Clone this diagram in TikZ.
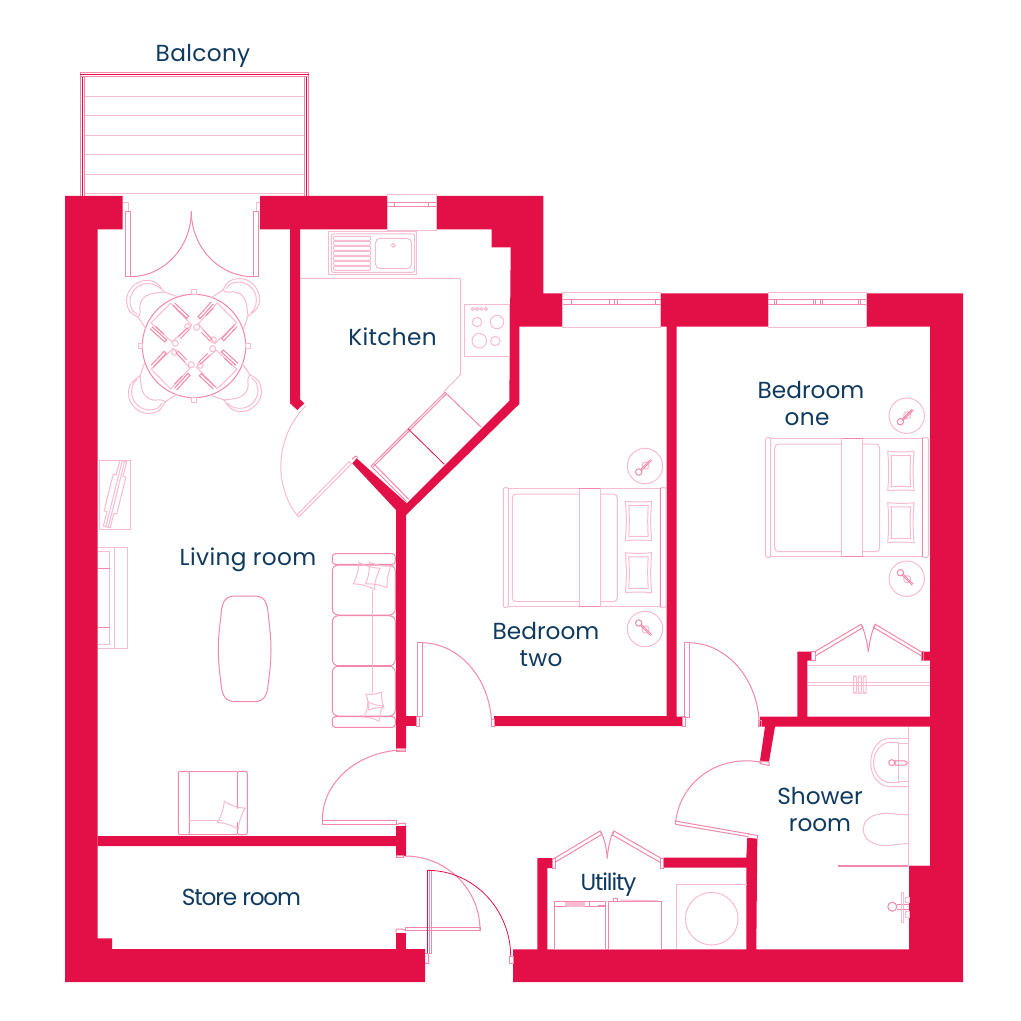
\documentclass[tikz,border=0pt]{standalone}
\usepackage{fontspec}
\usetikzlibrary{calc}
\setmainfont{Poppins}
\definecolor{wallred}{HTML}{E30F47}
\definecolor{inkblue}{HTML}{0F3A5F}
\definecolor{pinklight}{HTML}{F9BBCE}
\definecolor{pinkmid}{HTML}{F488A8}
\tikzset{
 wall/.style={fill=wallred,draw=none},
 lightln/.style={draw=pinklight,line width=0.5pt,fill=none},
 midln/.style={draw=pinkmid,line width=0.5pt,fill=none},
 darkln/.style={draw=wallred,line width=0.4pt,fill=none},
 roomlabel/.style={text=inkblue,anchor=base,inner sep=0pt,outer sep=0pt,font=\fontsize{11.6pt}{12pt}\selectfont},
}
\newfontfamily\wideface[LetterSpace=1.5]{Poppins}
\newfontfamily\midface[LetterSpace=0]{Poppins}
\newfontfamily\tightface[LetterSpace=-5]{Poppins}
% quarter curve A, corner C, B
\newcommand{\qcurve}[7][midln]{\draw[#1] (#2,#3) .. controls ($(#2,#3)!0.5523!(#4,#5)$) and ($(#6,#7)!0.5523!(#4,#5)$) .. (#6,#7);}
\newcommand{\boxat}[5][midln]{\draw[#1] (#2,#3) rectangle (#4,#5);}
\newcommand{\pillowat}[4]{%
 \draw[lightln] (#1,#2) to[bend right=5] (#3,#2) to[bend right=5] (#3,#4) to[bend right=5] (#1,#4) to[bend right=5] cycle;
 \draw[lightln] ($(#1,#2)+(3.5,4)$) to[bend right=3] ($(#3,#2)+(-3.5,4)$) to[bend right=3] ($(#3,#4)+(-3.5,-4)$) to[bend right=3] ($(#1,#4)+(3.5,-4)$) to[bend right=3] cycle;}
\newcommand{\bedat}[2]{\begin{scope}[shift={(#1,#2)}]
 \draw[lightln,rounded corners=1pt] (503.3,487.5) rectangle (508.3,607.5);
 \draw[lightln,rounded corners=1pt] (660,487.5) rectangle (666,607.5);
 \draw[lightln] (508.3,488.3) rectangle (660,606.7);
 \draw[midln] (660,488.3) -- (660,606.7);
 \draw[lightln,rounded corners=2pt] (512.3,494) rectangle (617.3,601.7);
 \fill[white] (579.3,488.3) rectangle (600.3,606.7);
 \draw[lightln] (579.3,488.3) -- (579.3,606.7) (600.3,488.3) -- (600.3,606.7);
 \draw[midln] (579.3,488.3) -- (600.3,488.3) (579.3,606.7) -- (600.3,606.7);
 \pillowat{625.3}{501.3}{651.7}{540.7}
 \pillowat{625.3}{552.7}{651.7}{592.7}
\end{scope}}
\newcommand{\lampat}[3]{\begin{scope}[shift={(#1,#2)},yscale=#3]
 \draw[lightln] (0,0) circle (17.7);
 \draw[lightln] (0.5,-0.5) circle (3.6);
 \draw[midln] (-6.3,6) circle (3.2);
 \draw[midln] (-5,4) -- (5.5,-6.5);
 \draw[midln] (-4,5) -- (6.5,-5.5);
\end{scope}}
\newcommand{\cushionat}[3]{\begin{scope}[shift={(#1,#2)},rotate=#3]
 \draw[lightln] (-11,-11) to[bend right=12] (11,-11) to[bend right=12] (11,11) to[bend right=12] (-11,11) to[bend right=12] cycle;
\end{scope}}
\newcommand{\chairset}[1]{\begin{scope}[shift={(194,346)},rotate=#1]
 % crescent
 \draw[lightln] (-30,-54) .. controls (-36,-64) and (-42,-67) .. (-52,-65) .. controls (-62,-62) and (-70,-52) .. (-66.7,-40) .. controls (-66,-36) and (-63,-32) .. (-56,-29) .. controls (-53,-33) and (-54,-34) .. (-54,-37) .. controls (-55,-46) and (-49,-52) .. (-38,-53) -- cycle;
 \draw[lightln] (-33,-57) .. controls (-38,-62) and (-43,-63) .. (-50,-62) .. controls (-59,-60) and (-66,-50) .. (-63.5,-41) .. controls (-63,-37) and (-61,-34) .. (-57,-32);
 \draw[lightln] (-30,-54) -- (-17,-49.5) (-56,-29) -- (-48,-17);
 % seat
 \draw[lightln] (-43,-23.3) -- (-23.3,-42.7) -- (-2.3,-21) -- (-22.3,-4.3) -- cycle;
 \draw[midln] (-21.3,-41) -- (-7.3,-27.7) -- (-5.3,-29.7) -- (-19.3,-43) (-18.3,-38) -- (-10.3,-30.7);
 \draw[midln] (-42,-19.3) -- (-27.3,-6) -- (-29.3,-4) -- (-44,-17.3) (-38,-19.3) -- (-30.3,-12);
 \draw[midln] (-15.7,-9.3) -- (-7,-18) -- (-5,-16) -- (-13.7,-7.3);
 \draw[lightln] (-6.3,-19.3) circle (3);
 \draw[lightln] (-18.7,-2.7) circle (3);
 % table tick
 \draw[lightln] (-2.7,-56) rectangle (2.7,-51.7);
\end{scope}}
\begin{document}
\begin{tikzpicture}[x=0.5pt,y=-0.5pt]
\useasboundingbox (0,0) rectangle (1021,1021);
\fill[white] (0,0) rectangle (1021,1021);
% walls
\fill[wall] (65,196) -- (122.7,196) -- (122.7,229.3) -- (97.7,229.3) -- (97.7,938.3) -- (112,938.3) -- (112,949) -- (425,949) -- (425,982) -- (65,982) -- cycle;
\fill[wall] (260,196) -- (387.3,196) -- (387.3,229.3) -- (300,229.3) -- (300,399.3) -- (304.3,403.3) -- (297.3,410) -- (290,403.3) -- (290,229.3) -- (260,229.3) -- cycle;
\fill[wall] (436.3,196) -- (543.3,196) -- (543.3,293.3) -- (562.7,293.3) -- (562.7,326.7) -- (519.3,326.7) -- (519.3,404) -- (406,515) -- (406,748.3) -- (396,748.3) -- (396,510) -- (352.3,463.3) -- (356.7,458.3) -- (406.7,503.3) -- (509.3,400.7) -- (510.7,247.3) -- (491.7,247.3) -- (491.7,229.3) -- (436.3,229.3) -- cycle;
\fill[wall] (396,826) -- (406,826) -- (406,856) -- (396,856) -- (396,846) -- (97.7,846) -- (97.7,836) -- (396,836) -- cycle;
\fill[wall] (396,932.7) rectangle (406,950);
\fill[wall] (406,716) rectangle (416,726);
\fill[wall] (513,949.3) -- (537.3,949.3) -- (537.3,858) -- (552.3,858) -- (552.3,868) -- (547.3,868) -- (547.3,949.3) -- (746.3,949.3) -- (746.3,867.7) -- (663.3,867.7) -- (663.3,857.7) -- (746.3,857.7) -- (747.3,837.7) -- (757.3,838.7) -- (756.3,949.3) -- (909,949.3) -- (909,865) -- (930,865) -- (930,726.7) -- (775,726.7) -- (769,761.7) -- (760,760.7) -- (765,726.7) -- (760,726.7) -- (760,716.7) -- (797.3,716.7) -- (797.3,651.7) -- (811.7,651.7) -- (811.7,660.7) -- (807.3,660.7) -- (807.3,716.7) -- (930,716.7) -- (930,660.7) -- (921.7,660.7) -- (921.7,651.7) -- (930,651.7) -- (930,326.7) -- (866.3,326.7) -- (866.3,293.3) -- (963,293.3) -- (963,982) -- (513,982) -- cycle;
\fill[wall] (661,293.3) -- (768,293.3) -- (768,326.7) -- (676.7,326.7) -- (676.7,716.7) -- (682.3,716.7) -- (682.3,726) -- (494,726) -- (494,716) -- (666.7,716) -- (666.7,326.7) -- (661,326.7) -- cycle;
% balcony
\draw[midln] (80,72.3) rectangle (308.7,76.7);
\draw[wallred,line width=0.7pt] (80,74.5) -- (308.7,74.5);
\draw[midln] (80,76.7) -- (80,196) (84.7,76.7) -- (84.7,196) (304.3,76.7) -- (304.3,196) (308.7,76.7) -- (308.7,196);
\draw[wallred,line width=0.7pt] (82.3,76.7) -- (82.3,196) (306.5,76.7) -- (306.5,196);
\foreach \yy in {96.3,115.3,135.3,154.3,174.3,193.7}{\draw[lightln] (84.7,\yy) -- (304.3,\yy);}
% balcony doors
\draw[lightln] (122.7,202.3) -- (128,202.3) -- (128,211.3);
\draw[midln] (125.3,211.3) rectangle (130,276.7);
\qcurve{130}{276.7}{191.3}{276.7}{191.3}{211.3}
\draw[lightln] (260,202.3) -- (256,202.3) -- (256,211.3);
\draw[midln] (253.3,211.3) rectangle (258,276.7);
\qcurve{253.3}{276.7}{191.3}{276.7}{191.3}{211.3}
% windows
\draw[lightln] (387.3,195) rectangle (436.3,230.7);
\draw[midln] (387.3,202.3) -- (436.3,202.3) (387.3,206.7) -- (436.3,206.7) (394.3,202.3) -- (394.3,206.7) (428.3,202.3) -- (428.3,206.7);
\draw[lightln] (562.7,292.7) rectangle (660.7,327.3);
\draw[midln] (562.7,299.3) -- (660.7,299.3) (562.7,304.3) -- (660.7,304.3);
\foreach \xx in {571.3,609.7,614.3,617.3,655.7}{\draw[midln] (\xx,299.3) -- (\xx,304.3);}
\draw[lightln] (768,292.7) rectangle (866.3,327.3);
\draw[midln] (768,299.3) -- (866.3,299.3) (768,304.3) -- (866.3,304.3);
\foreach \xx in {774.3,776.3,813.3,815,820,822.3,858.7,860}{\draw[midln] (\xx,299.3) -- (\xx,304.3);}
% dining
\draw[midln] (194,346) circle (51.7);
\chairset{0}\chairset{90}\chairset{180}\chairset{270}
% kitchen
\draw[lightln] (300,278.3) -- (460.7,278.3) -- (460.7,374.3) -- (444,391.7);
\draw[lightln] (328.3,231.3) rectangle (416.7,274.7);
\draw[lightln,rounded corners=1pt] (331.3,234) rectangle (414.7,272.3);
\foreach \yy in {236.3,241.3,246.3,251.3,256.3,261.3,266.3}{\draw[lightln,rounded corners=0.5pt] (333.3,\yy) rectangle (370.7,\yy+4);}
\draw[lightln,rounded corners=2.5pt] (375.3,238.3) rectangle (411.7,268.7);
\draw[lightln] (393.3,243.3) -- (395.3,245.3) -- (393.3,247.3) -- (391.3,245.3) -- cycle;
\draw[lightln] (464.3,304.3) rectangle (509.3,356.3);
\foreach \xx in {472.7,477,481.3,486}{\draw[lightln] (\xx,309) circle (1.6);}
\draw[lightln] (477,322) circle (4.7) (497,322) circle (6.7) (479.3,340.7) circle (7.3) (495.3,341) circle (4.7);
\draw[midln] (445,392.3) -- (371,466) (446.5,393.8) -- (372.5,467.5);
\draw[midln] (445,392.3) -- (481.3,427.3);
\draw[darkln] (408.3,429) -- (444.3,464.3);
\draw[midln] (371,466) -- (406.7,501.7) (373.5,463.5) -- (408.7,499.3);
% kitchen door
\draw[lightln] (297,515) -- (349,461.7) -- (351.3,464) -- (299,516.7) -- cycle;
\draw[midln] (352,459) -- (356,456) -- (358,458);
\qcurve[lightln]{298.3}{516.7}{251.3}{459.4}{306}{405.7}
% TV unit
\draw[lightln] (99.3,460.3) rectangle (130.7,529.3);
\begin{scope}[shift={(115,494)},rotate=-14]
\draw[lightln] (-3.5,-34) -- (3.5,-34) -- (3.5,-19) -- (6.5,-19) -- (6.5,19) -- (3.5,19) -- (3.5,34) -- (-3.5,34) -- (-3.5,19) -- (-6.5,19) -- (-6.5,-19) -- (-3.5,-19) -- cycle;
\draw[lightln] (-1,-34) -- (-1,34) (1.5,-34) -- (1.5,34);
\end{scope}
% sideboard
\draw[lightln] (98,547.3) -- (127.7,547.3) -- (127.7,648.7) -- (98,648.7);
\draw[lightln] (114.3,547.3) -- (114.3,648.7);
\draw[lightln] (98,551.3) -- (109.7,551.3) -- (109.7,644.7) -- (98,644.7);
\draw[midln] (98,568.3) -- (109.7,568.3) (98,627.3) -- (109.7,627.3);
% coffee table
\draw[midln] (236,596) .. controls (226,596) and (222,600) .. (221,615) .. controls (219,632) and (218.3,640) .. (218.3,649) .. controls (218.3,658) and (219,668) .. (221,683) .. controls (222,697) and (226,701.7) .. (236,701.7) -- (253.3,701.7) .. controls (263.3,701.7) and (267.3,697) .. (268.3,683) .. controls (270.3,668) and (271,658) .. (271,649) .. controls (271,640) and (270.3,632) .. (268.3,615) .. controls (267.3,600) and (263.3,596) .. (253.3,596) -- cycle;
% sofa
\draw[midln,rounded corners=1.5pt] (332.3,553.7) rectangle (395.3,564.3);
\draw[midln,rounded corners=1.5pt] (332.3,716.7) rectangle (395.3,727.3);
\draw[midln,rounded corners=3pt] (332.3,565) rectangle (395.3,615);
\draw[midln,rounded corners=3pt] (332.3,615.7) rectangle (395.3,665.7);
\draw[midln,rounded corners=3pt] (332.3,666.3) rectangle (395.3,716);
\draw[lightln] (372.7,590) -- (372.7,693);
\cushionat{366.7}{576}{-15}
\cushionat{378.3}{575}{-10}
\begin{scope}[shift={(375,701)},scale=0.72]
\cushionat{0}{0}{8}
\end{scope}
\begin{scope}[shift={(373.5,711.5)},scale=0.72]
\cushionat{0}{0}{-15}
\end{scope}
% armchair
\draw[midln,rounded corners=1pt] (178.3,771.3) rectangle (189.3,834.7);
\draw[midln,rounded corners=1pt] (237.3,771.3) rectangle (247.3,834.7);
\draw[midln] (189.3,771.3) -- (237.3,771.3) (189.3,834.7) -- (237.3,834.7);
\draw[lightln] (189.3,820) -- (221.7,820);
\fill[white] (231.3,815.3) circle (9);
\cushionat{231.3}{815.3}{-18}
% entrance hall door
\boxat{322.3}{820}{396.7}{824.7}
\qcurve{322.3}{820}{322.3}{750}{405}{750}
\draw[midln] (405.7,748.3) rectangle (396,751.7);
\draw[midln] (396.7,824.7) -- (400,823.3) -- (405.7,823.3) -- (405.7,826);
% bedroom two door
\boxat{417.3}{642.7}{422}{716}
\boxat{416}{716}{419}{726}
\qcurve{421}{642.7}{491.6}{642.7}{491.6}{726}
\boxat{491}{719.5}{494}{726}
% bedroom one door
\boxat{684.3}{642.7}{689}{717.3}
\boxat{682.7}{716.7}{685.7}{726.7}
\qcurve{688.3}{642.7}{759.3}{642.7}{759.3}{726.7}
\boxat{758.3}{720}{761}{726.7}
% store door
\boxat{396}{855}{403.3}{857.7}
\qcurve{405}{856}{480}{856}{480}{930}
\boxat{405.3}{927.3}{480.7}{930.7}
\draw[midln] (396,932.7) -- (396,929) -- (402,929) -- (405.3,930);
% front door
\draw[darkln] (427.3,870.3) -- (431.7,870.3);
\draw[midln] (431.7,870.3) -- (431.7,953.3) (429.5,870.3) -- (429.5,953.3) -- (431.7,953.3);
\draw[darkln] (427.3,870.3) -- (427.3,953.3);
\draw[midln] (425,953.3) -- (427.3,953.3) -- (428.7,955) -- (428.7,963.3) -- (425,963.3);
\qcurve[darkln]{427.3}{870.3}{510.7}{870.3}{510.7}{956.7}
\boxat{509.3}{956.7}{513}{963.3}
% utility doors
\boxat{552.3}{858}{555}{868}
\draw[midln] (553.3,859) -- (600,831) -- (602,834.3) -- (555,862.3);
\qcurve[midln]{600}{831}{606}{838}{607.3}{858.3}
\boxat{660.7}{858}{663.3}{868}
\draw[midln] (661,858.3) -- (614,831) -- (612.7,835) -- (660,862.3);
\qcurve[midln]{614}{831}{608.5}{838}{607.3}{858.3}
% utility appliances
\boxat{554.3}{901.3}{605.7}{949.3}
\draw[midln] (554.3,906.7) -- (605.7,906.7) (589.3,901.3) -- (589.3,906.7);
\draw[lightln,fill=pinklight] (565.7,902.7) rectangle (584,906.7);
\draw[midln] (598,905.5) -- (605.7,905.5);
\boxat{608.3}{901.3}{661.7}{949.3}
\boxat{613.3}{898.3}{617.3}{901.3}
\draw[lightln] (620,900) -- (658,900.8);
\draw[lightln] (676.3,949.3) -- (676.3,884.3) -- (746.7,884.3);
\draw[lightln] (711.7,918.7) circle (26.3);
% wardrobe
\boxat{811.7}{651.7}{815.7}{660.7}
\draw[midln] (813.7,652.3) -- (861,624.3) -- (863,627.5) -- (815.7,655.7);
\qcurve[midln]{861}{624.3}{866}{632}{868.3}{651.7}
\boxat{921}{651.7}{923.5}{660.7}
\draw[midln] (921,651.7) -- (875.3,624.3) -- (873.5,627.5) -- (921,655.7);
\qcurve[midln]{875.3}{624.3}{870.5}{632}{868.3}{651.7}
\draw[lightln] (807.3,665) -- (930,665);
\draw[lightln] (807.3,682.7) -- (930,682.7) (807.3,685.7) -- (930,685.7);
\foreach \xx in {853.5,858.3,863.2}{\draw[lightln,rounded corners=1pt] (\xx,676) rectangle (\xx+3,693);}
% shower room
\draw[lightln] (908.3,726.7) -- (908.3,865) -- (930,865);
\draw[lightln] (908.3,738.3) -- (890,738.3) .. controls (878,738.3) and (870.7,750) .. (870.7,762.5) .. controls (870.7,775) and (878,786.7) .. (890,786.7) -- (908.3,786.7);
\draw[lightln] (898.3,742.3) -- (891,742.3) .. controls (881,742.3) and (873.5,752) .. (873.5,762.5) .. controls (873.5,773) and (881,782.7) .. (891,782.7) -- (898.3,782.7);
\draw[lightln] (898.3,742.3) -- (898.3,782.7) (898.3,743.3) -- (908.3,743.3) (898.3,781.7) -- (908.3,781.7);
\draw[midln] (891.7,762.7) circle (3);
\draw[midln] (895,760.7) -- (905,761) .. controls (908,762) and (908,764) .. (905,765) -- (895,765) -- cycle;
\draw[lightln] (908.3,815) -- (886.7,813.3) .. controls (872,813.3) and (863.3,820) .. (863.3,829.3) .. controls (863.3,839) and (872,845.7) .. (886.7,845.7) -- (908.3,843.3);
\draw[midln,line width=0.8pt] (838.3,865.7) -- (908.3,865.7);
\draw[midln] (892.3,906.7) circle (4.5);
\draw[midln] (897,904) -- (909,904) (897,909) -- (909,909);
\draw[lightln] (901.7,892.3) rectangle (903.3,922.7);
\draw[lightln] (905,897.3) rectangle (909,902.7) (905,911.7) rectangle (909,917.3);
% shower door
\draw[midln] (675,821) -- (749.3,834) (675.7,824.3) -- (748.3,836.7) (675,821) -- (675.7,824.3);
\draw[midln] (748,834) -- (757.7,835.5) -- (757.3,838.7);
\qcurve{675.7}{821}{685.4}{747.3}{761.7}{762.3}
\draw[midln] (760,761) -- (769,762) -- (769,765.5) -- (760,763.5) -- cycle;
% beds
\bedat{0}{0}
\bedat{262.4}{-50}
\lampat{645}{466}{1}
\lampat{645}{629}{-1}
\lampat{906.7}{415.7}{1}
\lampat{906.7}{578.7}{-1}
% labels
\node[roomlabel] (balcony) at (203,61.7) {\wideface Balcony};
\node[roomlabel] (kitchen) at (392.5,345.7) {\wideface Kitchen};
\node[roomlabel] (living) at (248,565) {\wideface Living room};
\node[roomlabel] (store) at (241.5,905) {\tightface Store room};
\node[roomlabel] (bedonea) at (811,398) {\midface Bedroom};
\node[roomlabel] (bedoneb) at (807,425) {\wideface one};
\node[roomlabel] (bedtwoa) at (546,639.7) {\midface Bedroom};
\node[roomlabel] (bedtwob) at (541,666.7) {\wideface two};
\node[roomlabel] (showera) at (820,804.3) {\midface Shower};
\node[roomlabel] (showerb) at (820,831) {\midface room};
\node[roomlabel] (utility) at (608.5,890) {\tightface Utility};
\end{tikzpicture}
\end{document}
